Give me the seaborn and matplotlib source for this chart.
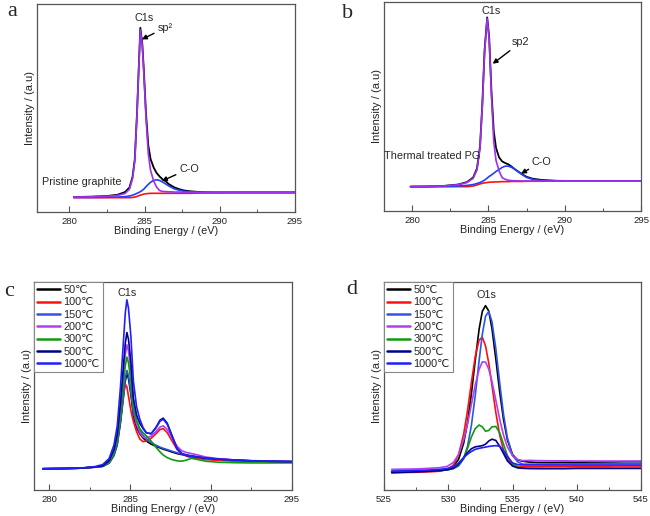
import numpy as np
import pandas as pd
import matplotlib
matplotlib.use("Agg")
import matplotlib.pyplot as plt
from matplotlib.ticker import MultipleLocator
import seaborn as sns

# ---------------- data ----------------
# Panel a: pristine graphite C1s fit
Ea = [280.3, 281.5, 282.5, 283.2, 283.7, 284.0, 284.2, 284.35, 284.5, 284.6, 284.72,
      284.85, 284.95, 285.1, 285.25, 285.4, 285.6, 285.8, 286.0, 286.2, 286.4, 286.6,
      286.8, 287.0, 287.3, 287.6, 288.0, 288.5, 289.0, 290.0, 291.0, 292.5, 295.0]
a_total = [7.2, 7.4, 7.7, 8.3, 9.6, 11.8, 16.8, 25.3, 47.6, 66.6, 88.6, 81.0, 68.5, 47.0,
           32.0, 25.5, 21.5, 18.8, 17.1, 15.7, 14.8, 13.5, 12.6, 11.8, 11.0, 10.4, 10.0,
           9.7, 9.5, 9.4, 9.4, 9.4, 9.4]
a_sp2 = [7.2, 7.3, 7.6, 8.0, 8.9, 11.0, 16.0, 24.5, 47.0, 66.0, 87.5, 80.0, 67.0, 45.0,
         28.0, 20.0, 15.0, 12.0, 10.3, 9.9, 9.8, 9.7, 9.7, 9.6, 9.6, 9.5, 9.5, 9.5, 9.4,
         9.4, 9.4, 9.4, 9.4]
a_co = [7.0, 7.0, 7.1, 7.2, 7.4, 7.7, 8.1, 8.5, 9.0, 9.3, 9.8, 10.4, 11.0, 12.2, 13.3,
        14.3, 15.2, 15.5, 15.2, 14.4, 13.5, 12.6, 11.8, 11.1, 10.5, 10.0, 9.7, 9.5, 9.4,
        9.4, 9.4, 9.4, 9.4]
a_bg = [6.9, 6.9, 6.9, 6.9, 6.9, 6.9, 7.0, 7.2, 7.5, 7.8, 8.1, 8.4, 8.6, 8.8, 8.9, 9.0,
        9.0, 9.0, 9.0, 9.0, 9.0, 9.0, 9.0, 9.0, 9.0, 9.0, 9.0, 9.1, 9.2, 9.3, 9.4, 9.4, 9.4]

# Panel b: thermal treated PG C1s fit
Eb = [279.9, 281.0, 282.0, 283.0, 283.6, 284.0, 284.25, 284.45, 284.6, 284.75, 284.92,
      285.05, 285.2, 285.35, 285.5, 285.7, 285.9, 286.1, 286.3, 286.5, 286.7, 286.9,
      287.2, 287.5, 287.9, 288.5, 289.5, 291.0, 293.0, 295.0]
b_total = [11.5, 11.6, 11.8, 12.5, 13.7, 15.9, 20.2, 30.8, 50.8, 77.0, 92.5, 83.0, 57.0,
           38.0, 30.0, 25.5, 23.6, 22.8, 22.2, 21.2, 20.0, 19.0, 17.5, 16.2, 15.3, 14.7,
           14.3, 14.2, 14.2, 14.2]
b_sp2 = [11.5, 11.6, 11.8, 12.4, 13.5, 15.5, 19.5, 30.0, 50.0, 76.0, 92.0, 82.0, 55.0,
         33.0, 24.0, 19.0, 15.8, 15.0, 14.6, 14.4, 14.3, 14.3, 14.2, 14.2, 14.2, 14.2,
         14.2, 14.2, 14.2, 14.2]
b_co = [11.5, 11.5, 11.6, 11.8, 12.1, 12.5, 13.0, 13.5, 14.0, 14.6, 15.6, 16.4, 17.1,
        17.9, 18.8, 19.7, 20.7, 21.3, 21.3, 20.8, 20.0, 18.9, 17.3, 15.9, 15.0, 14.4,
        14.2, 14.2, 14.2, 14.2]
b_bg = [11.5, 11.5, 11.5, 11.5, 11.5, 11.8, 12.3, 12.8, 13.1, 13.3, 13.5, 13.6, 13.7,
        13.7, 13.8, 13.8, 13.9, 13.9, 13.9, 14.0, 14.0, 14.0, 14.0, 14.1, 14.1, 14.1,
        14.2, 14.2, 14.2, 14.2]

# Panel c: C1s vs temperature
temps = ["50℃", "100℃", "150℃", "200℃", "300℃", "500℃", "1000℃"]
Ec = [279.6, 281.0, 282.0, 282.8, 283.3, 283.7, 284.0, 284.2, 284.4, 284.55, 284.7,
      284.8, 284.9, 285.05, 285.2, 285.4, 285.6, 285.8, 286.0, 286.3, 286.6, 286.85,
      287.05, 287.3, 287.6, 287.9, 288.2, 288.5, 288.8, 289.2, 289.7, 290.5, 291.5,
      292.5, 293.5, 295.0]
c_50 = [10.2, 10.3, 10.5, 11.0, 11.3, 12.9, 16.6, 21.6, 32.1, 42.1, 52.2, 55.8, 53.5,
        45.8, 35.5, 30.0, 27.0, 25.0, 23.5, 22.0, 21.0, 20.2, 19.6, 19.0, 18.2, 17.5,
        17.0, 16.6, 16.2, 15.6, 15.0, 14.5, 14.1, 13.9, 13.7, 13.6]
c_100 = [10.2, 10.3, 10.5, 10.9, 11.5, 13.8, 18.5, 24.0, 33.5, 44.0, 50.8, 49.5, 45.0,
         38.0, 33.0, 28.0, 24.5, 23.2, 23.5, 24.8, 27.0, 29.0, 29.5, 27.5, 23.5, 19.5,
         17.3, 16.2, 15.6, 15.1, 14.6, 14.2, 13.9, 13.7, 13.6, 13.5]
c_150 = [10.2, 10.3, 10.5, 11.0, 11.4, 13.0, 16.8, 22.0, 32.9, 43.2, 53.6, 57.4, 55.0,
         47.0, 37.0, 31.5, 28.5, 26.3, 24.5, 22.8, 21.5, 20.6, 20.0, 19.4, 18.6, 17.9,
         17.3, 16.9, 16.5, 16.0, 15.4, 14.8, 14.3, 14.0, 13.8, 13.7]
c_200 = [10.2, 10.3, 10.5, 11.0, 11.7, 13.8, 18.5, 25.1, 38.8, 51.9, 65.0, 69.7, 66.7,
         56.6, 41.1, 32.0, 27.5, 25.5, 25.0, 25.8, 28.0, 30.2, 30.8, 29.0, 25.0, 21.0,
         18.8, 18.0, 17.5, 16.8, 15.8, 15.0, 14.4, 14.1, 13.9, 13.7]
c_300 = [10.2, 10.3, 10.5, 11.0, 11.6, 13.4, 17.7, 23.6, 35.9, 47.7, 59.5, 63.8, 61.1,
         52.0, 40.0, 33.5, 29.5, 27.5, 26.0, 23.5, 20.5, 18.3, 16.8, 15.5, 14.6, 14.0,
         13.8, 14.4, 15.2, 14.6, 13.8, 13.3, 13.1, 13.0, 13.0, 13.0]
c_500 = [10.2, 10.3, 10.5, 11.0, 11.6, 14.1, 19.4, 26.6, 41.6, 56.0, 70.4, 75.6, 72.3,
         61.2, 44.2, 36.0, 32.0, 29.5, 27.5, 27.0, 30.0, 33.5, 34.5, 32.0, 26.0, 20.0,
         17.5, 16.6, 16.2, 15.8, 15.3, 14.8, 14.4, 14.0, 13.8, 13.6]
c_1000 = [10.2, 10.4, 10.6, 11.2, 12.2, 15.1, 21.6, 30.5, 49.1, 67.0, 84.8, 91.3, 87.2,
          73.5, 52.4, 40.0, 34.0, 30.0, 27.5, 27.0, 29.8, 33.0, 34.0, 31.5, 25.8, 20.0,
          17.5, 16.6, 16.2, 15.8, 15.3, 14.8, 14.4, 14.0, 13.8, 13.6]

# Panel d: O1s vs temperature
Ed = [525.6, 526.5, 527.5, 528.5, 529.3, 529.9, 530.4, 530.8, 531.2, 531.5, 531.8,
      532.1, 532.4, 532.65, 532.9, 533.15, 533.4, 533.7, 534.0, 534.3, 534.6, 535.0,
      535.4, 535.8, 536.3, 537.0, 538.0, 539.0, 540.0, 541.0, 542.0, 543.0, 544.0, 545.0]
d_50 = [8.8, 8.9, 9.0, 9.2, 9.5, 9.9, 11.4, 14.7, 22.5, 32.5, 46.3, 62.3, 77.2, 85.8,
        88.5, 85.9, 77.5, 62.9, 47.2, 33.8, 24.1, 17.0, 14.4, 13.8, 13.4, 13.2, 13.2,
        13.3, 13.3, 13.4, 13.4, 13.5, 13.6, 13.6]
d_100 = [8.3, 8.4, 8.5, 8.7, 9.0, 9.8, 11.9, 16.9, 26.9, 38.2, 51.6, 64.1, 72.0, 73.3,
         69.2, 60.9, 50.2, 37.2, 26.4, 19.0, 14.7, 12.2, 11.3, 11.2, 11.2, 11.2, 11.3,
         11.3, 11.4, 11.4, 11.4, 11.5, 11.5, 11.5]
d_150 = [8.9, 9.0, 9.0, 9.2, 9.4, 9.6, 10.3, 11.5, 15.0, 21.0, 31.0, 45.4, 62.1, 74.8,
         83.4, 85.7, 80.8, 67.9, 51.5, 36.3, 25.0, 16.6, 13.5, 12.4, 12.4, 12.4, 12.5,
         12.5, 12.6, 12.6, 12.7, 12.7, 12.8, 12.8]
d_200 = [9.9, 10.0, 10.1, 10.4, 10.7, 11.3, 13.2, 17.0, 24.1, 31.8, 41.1, 50.5, 57.9,
         61.5, 61.4, 58.0, 52.1, 43.1, 34.0, 26.3, 20.7, 16.4, 14.6, 14.1, 14.2, 14.1,
         14.0, 14.0, 13.9, 13.9, 13.9, 13.9, 13.9, 13.9]
d_300 = [8.8, 8.9, 9.0, 9.1, 9.3, 9.6, 10.3, 12.0, 15.5, 20.0, 25.5, 29.5, 31.2, 30.3,
         28.2, 28.6, 30.3, 30.5, 27.5, 22.0, 16.5, 12.5, 10.9, 10.5, 10.4, 10.3, 10.3,
         10.3, 10.4, 10.4, 10.4, 10.4, 10.4, 10.4]
d_500 = [8.3, 8.5, 8.7, 9.0, 9.3, 9.7, 10.5, 12.5, 15.5, 18.0, 19.8, 20.7, 21.0, 21.3,
         22.0, 23.5, 24.4, 23.8, 21.0, 17.5, 14.0, 11.5, 10.6, 10.4, 10.3, 10.3, 10.3,
         10.3, 10.4, 10.4, 10.4, 10.4, 10.4, 10.4]
d_1000 = [9.0, 9.2, 9.4, 9.6, 9.9, 10.3, 11.2, 13.0, 15.5, 17.2, 18.5, 19.5, 20.0, 20.3,
          20.6, 20.9, 21.1, 21.3, 21.0, 19.0, 16.0, 13.0, 12.2, 12.0, 12.0, 12.0, 12.0,
          12.0, 12.0, 12.0, 12.0, 12.0, 12.0, 12.0]

# ---------------- styling ----------------
sns.set_theme(style="ticks")
plt.rcParams["font.family"] = ["Liberation Sans", "DejaVu Sans"]
plt.rcParams["axes.edgecolor"] = "#555555"
plt.rcParams["axes.linewidth"] = 0.9

temp_colors = ["#000000", "#ff1010", "#2f55e8", "#b040f0", "#109a10", "#000088", "#2020ff"]
FIT = {"total": "#000000", "sp2": "#a030f0", "co": "#2040ff", "bg": "#ff1010"}

fig = plt.figure(figsize=(6.5, 5.16), dpi=100)
ax_a = fig.add_axes([0.0569, 0.5891, 0.3969, 0.4031])
ax_b = fig.add_axes([0.5908, 0.5917, 0.3954, 0.4050])
ax_c = fig.add_axes([0.0523, 0.0504, 0.3964, 0.4037])
ax_d = fig.add_axes([0.5908, 0.0504, 0.3954, 0.4037])

TXT = 7.8


def style_axes(ax, xlim, major, minor):
    ax.set_xlim(*xlim)
    ax.set_ylim(0, 100)
    ax.set_yticks([])
    ax.xaxis.set_major_locator(MultipleLocator(major))
    ax.xaxis.set_minor_locator(MultipleLocator(minor))
    ax.tick_params(axis="x", which="major", direction="in", length=4, width=0.8,
                   labelsize=6.8, pad=3.5, colors="#555555", labelcolor="#222222")
    ax.tick_params(axis="x", which="minor", direction="in", length=2.5, width=0.7,
                   colors="#555555")
    ax.set_xlabel("Binding Energy / (eV)", fontsize=7.8, labelpad=0.3, color="#222222")
    ax.set_ylabel("Intensity / (a.u)", fontsize=8, labelpad=1.5, color="#222222")
    for s in ax.spines.values():
        s.set_visible(True)
        s.set_color("#555555")


def fit_panel(ax, E, total, sp2, co, bg):
    sns.lineplot(x=E, y=total, color=FIT["total"], lw=1.3, ax=ax, sort=False, estimator=None)
    sns.lineplot(x=E, y=bg, color=FIT["bg"], lw=1.2, ax=ax, sort=False, estimator=None)
    sns.lineplot(x=E, y=co, color=FIT["co"], lw=1.2, ax=ax, sort=False, estimator=None)
    sns.lineplot(x=E, y=sp2, color=FIT["sp2"], lw=1.2, ax=ax, sort=False, estimator=None)


arrow_kw = dict(arrowstyle="-|>", color="black", lw=1.0, mutation_scale=7,
                shrinkA=0, shrinkB=0)

# panel a
fit_panel(ax_a, Ea, a_total, a_sp2, a_co, a_bg)
style_axes(ax_a, (277.85, 295), 5, 2.5)
ax_a.text(284.94, 93.5, "C1s", fontsize=TXT, ha="center", va="center")
ax_a.annotate("sp²", xy=(284.82, 83.0), xytext=(285.85, 88.5), fontsize=TXT,
              ha="left", va="center", arrowprops=arrow_kw)
ax_a.annotate("C-O", xy=(286.15, 14.9), xytext=(287.3, 20.8), fontsize=TXT,
              ha="left", va="center", arrowprops=arrow_kw)
ax_a.text(280.85, 14.6, "Pristine graphite", fontsize=TXT, ha="center", va="center")

# panel b
fit_panel(ax_b, Eb, b_total, b_sp2, b_co, b_bg)
style_axes(ax_b, (278.16, 295), 5, 2.5)
ax_b.text(285.15, 95.5, "C1s", fontsize=TXT, ha="center", va="center")
ax_b.annotate("sp2", xy=(285.28, 70.3), xytext=(286.55, 80.5), fontsize=TXT,
              ha="left", va="center", arrowprops=arrow_kw)
ax_b.annotate("C-O", xy=(287.14, 17.7), xytext=(287.85, 23.5), fontsize=TXT,
              ha="left", va="center", arrowprops=arrow_kw)
ax_b.text(281.3, 26.0, "Thermal treated PG", fontsize=TXT, ha="center", va="center")


def temp_panel(ax, E, series):
    frames = []
    for lab, ys in zip(temps, series):
        frames.append(pd.DataFrame({"E": E, "I": ys, "T": lab}))
    df = pd.concat(frames, ignore_index=True)
    sns.lineplot(data=df, x="E", y="I", hue="T", hue_order=temps,
                 palette=dict(zip(temps, temp_colors)), lw=1.2, ax=ax,
                 sort=False, estimator=None)
    handles, labels = ax.get_legend_handles_labels()
    leg = ax.legend(handles, labels, loc="upper left", bbox_to_anchor=(0.0, 1.0),
                    borderaxespad=0.0, fontsize=TXT, frameon=True, fancybox=False,
                    edgecolor="#888888", framealpha=1, handlelength=2.1,
                    handletextpad=0.3, labelspacing=0.22, borderpad=0.3)
    leg.get_frame().set_linewidth(0.8)
    for h in leg.get_lines():
        h.set_linewidth(1.8)


temp_panel(ax_c, Ec, [c_50, c_100, c_150, c_200, c_300, c_500, c_1000])
style_axes(ax_c, (279.05, 295), 5, 2.5)
ax_c.text(284.83, 94.6, "C1s", fontsize=TXT, ha="center", va="center")

temp_panel(ax_d, Ed, [d_50, d_100, d_150, d_200, d_300, d_500, d_1000])
style_axes(ax_d, (525, 545), 5, 2.5)
ax_d.text(532.97, 93.8, "O1s", fontsize=TXT, ha="center", va="center")

# panel letters
serif = ["Liberation Serif", "DejaVu Serif"]
fig.text(12 / 650, 1 - 11 / 516, "a", fontsize=16, family=serif, ha="center", va="center")
fig.text(348 / 650, 1 - 14 / 516, "b", fontsize=16, family=serif, ha="center", va="center")
fig.text(9 / 650, 1 - 292 / 516, "c", fontsize=16, family=serif, ha="center", va="center")
fig.text(352 / 650, 1 - 290 / 516, "d", fontsize=16, family=serif, ha="center", va="center")

fig.savefig("out.png", dpi=100)
